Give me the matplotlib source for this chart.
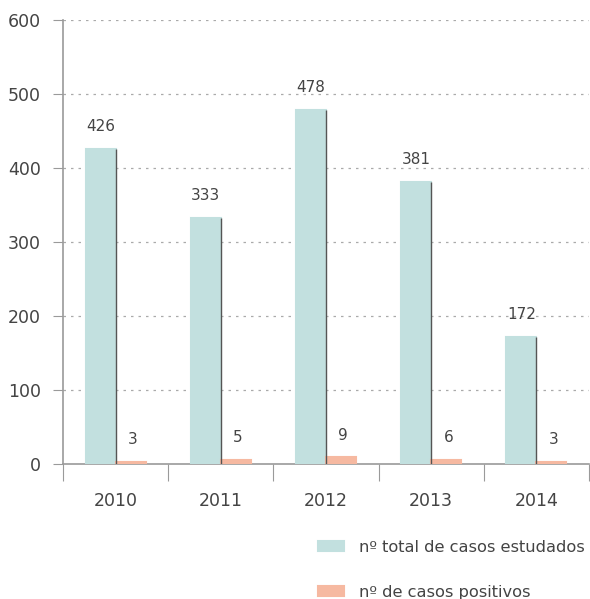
import matplotlib
matplotlib.use('Agg')
import matplotlib.pyplot as plt
import numpy as np

# dados
anos = ['2010', '2011', '2012', '2013', '2014']
total_casos = [426, 333, 478, 381, 172]
casos_positivos = [3, 5, 9, 6, 3]
y_ticks = [0, 100, 200, 300, 400, 500, 600]

cor_total = '#c2e0df'
cor_pos = '#f6b9a1'
cor_texto = '#444444'
cor_eixo = '#9a9a9a'

plt.rcParams['font.family'] = ['DejaVu Sans']

fig = plt.figure(figsize=(5.9, 5.99), dpi=100)
ax = fig.add_axes([63 / 590, 135 / 599, 526 / 590, 444 / 599])

x = np.arange(len(anos))
w = 0.285
b1 = ax.bar(x - w / 2, total_casos, width=w, color=cor_total, zorder=3,
            edgecolor=cor_total, linewidth=1.5,
            label='nº total de casos estudados')
b2 = ax.bar(x + w / 2, casos_positivos, width=w, color=cor_pos, zorder=3,
            edgecolor=cor_pos, linewidth=1.5,
            label='nº de casos positivos')
# sombra escura no lado direito das barras
ax.vlines(x, 0, total_casos, color='#555555', linewidth=1, zorder=4)

# rótulos
for xi, v in zip(x, total_casos):
    ax.text(xi - w / 2, v + 20, str(v), ha='center', va='bottom',
            fontsize=11, color=cor_texto)
for xi, v in zip(x, casos_positivos):
    ax.text(xi + w / 2 + 0.02, v + 20, str(v), ha='center', va='bottom',
            fontsize=11, color=cor_texto)

ax.set_xlim(-0.5, len(anos) - 0.5)
ax.set_ylim(0, 600)
ax.set_yticks(y_ticks)
ax.set_yticklabels([str(t) for t in y_ticks], fontsize=12.5, color=cor_texto)
ax.tick_params(axis='y', length=7, color=cor_eixo, pad=9)

# ticks do eixo x nos limites das categorias, rótulos no centro
ax.set_xticks(np.arange(len(anos) + 1) - 0.5)
ax.set_xticklabels([])
ax.set_xticks(x, minor=True)
ax.set_xticklabels(anos, minor=True, fontsize=12.5, color=cor_texto)
ax.tick_params(axis='x', which='major', length=12, color=cor_eixo)
ax.tick_params(axis='x', which='minor', length=0, pad=20)

ax.grid(axis='y', linestyle=(0, (2, 4)), color='#aaaaaa', linewidth=0.9, zorder=0)
ax.yaxis.get_gridlines()[0].set_visible(False)

for s in ['top', 'right']:
    ax.spines[s].set_visible(False)
ax.spines['left'].set_color(cor_eixo)
ax.spines['bottom'].set_color(cor_eixo)
ax.spines['left'].set_linewidth(1.2)
ax.spines['bottom'].set_linewidth(1.2)

leg = fig.legend(handles=[b1, b2], loc='upper left',
                 bbox_to_anchor=(318 / 590, 59 / 599), frameon=False,
                 fontsize=11.7, handlelength=1.6, handleheight=0.6,
                 handletextpad=0.9, labelspacing=1.85, borderpad=0,
                 borderaxespad=0)
for t in leg.get_texts():
    t.set_color(cor_texto)

plt.savefig('out.png', dpi=100)
